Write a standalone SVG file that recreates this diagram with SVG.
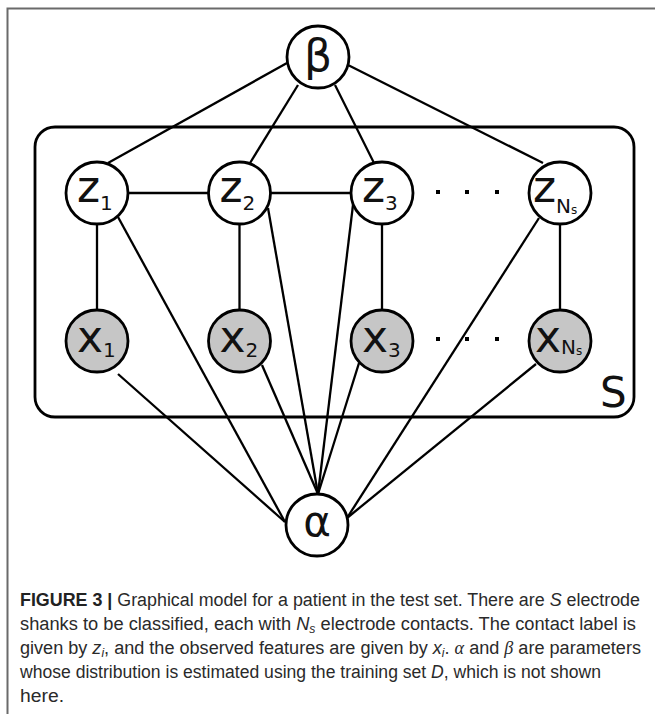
<svg xmlns="http://www.w3.org/2000/svg" width="655" height="714" viewBox="0 0 655 714">
<style>
.frame{stroke:#6a6a6a;stroke-width:2;fill:none}
.edge{stroke:#000;stroke-width:2.3;fill:none}
.plate{stroke:#000;stroke-width:2.8;fill:none}
.node{stroke:#000;stroke-width:2.8}
.hid{fill:#fff}
.obs{fill:#c6c6c6}
.lbl{font-family:"DejaVu Sans",sans-serif;fill:#111}
.cap{font-family:"Liberation Sans",Arial,sans-serif;font-size:18px;fill:#2a2a2a}
.dot{fill:#000}
</style>
<rect width="655" height="714" fill="#fff"/>
<path class="frame" d="M7.5,714 V8.5 H655"/>

<rect class="plate" x="35" y="127" width="599" height="290" rx="20"/>
<text class="lbl" x="600" y="407" font-size="42">S</text>

<g id="connectors">
<line class="edge" x1="287" y1="63" x2="108" y2="163"/>
<line class="edge" x1="298" y1="85" x2="250" y2="163"/>
<line class="edge" x1="335" y1="85" x2="374" y2="163"/>
<line class="edge" x1="348" y1="65" x2="543" y2="163"/>
<line class="edge" x1="128" y1="193" x2="209" y2="193"/>
<line class="edge" x1="270" y1="193" x2="351" y2="193"/>
<line class="edge" x1="97" y1="224" x2="97" y2="311"/>
<line class="edge" x1="239.5" y1="224" x2="239.5" y2="311"/>
<line class="edge" x1="382" y1="224" x2="382" y2="311"/>
<line class="edge" x1="560" y1="224" x2="560" y2="311"/>
<line class="edge" x1="118" y1="374" x2="285" y2="522"/>
<line class="edge" x1="118" y1="217" x2="285" y2="522"/>
<line class="edge" x1="262" y1="365" x2="318" y2="494"/>
<line class="edge" x1="268" y1="208" x2="318" y2="494"/>
<line class="edge" x1="353" y1="205" x2="318" y2="494"/>
<line class="edge" x1="359" y1="363" x2="318" y2="494"/>
<line class="edge" x1="539" y1="218" x2="347" y2="518"/>
<line class="edge" x1="536" y1="364" x2="347" y2="518"/>
</g>

<g id="dots">
<rect class="dot" x="436" y="190" width="4" height="4"/>
<rect class="dot" x="465" y="190" width="4" height="4"/>
<rect class="dot" x="495" y="190" width="4" height="4"/>
<rect class="dot" x="436" y="337" width="4" height="4"/>
<rect class="dot" x="465" y="337" width="4" height="4"/>
<rect class="dot" x="495" y="337" width="4" height="4"/>
</g>

<g id="beta">
<circle class="node hid" cx="318" cy="57" r="31"/>
<text class="lbl" x="318" y="71" font-size="44" text-anchor="middle">β</text>
</g>
<g id="z1">
<circle class="node hid" cx="97" cy="193" r="31"/>
<text class="lbl" x="77" y="202" font-size="44">z<tspan font-size="20" dy="8">1</tspan></text>
</g>
<g id="z2">
<circle class="node hid" cx="239.5" cy="193" r="31"/>
<text class="lbl" x="219.5" y="202" font-size="44">z<tspan font-size="20" dy="8">2</tspan></text>
</g>
<g id="z3">
<circle class="node hid" cx="382" cy="193" r="31"/>
<text class="lbl" x="362" y="202" font-size="44">z<tspan font-size="20" dy="8">3</tspan></text>
</g>
<g id="zNs">
<circle class="node hid" cx="560" cy="193" r="31"/>
<text class="lbl" x="533" y="202" font-size="44">z<tspan font-size="20" dy="11">N</tspan><tspan font-size="12" dy="1">s</tspan></text>
</g>
<g id="x1">
<circle class="node obs" cx="97" cy="341" r="31"/>
<text class="lbl" x="77" y="352" font-size="44">x<tspan font-size="20" dy="5">1</tspan></text>
</g>
<g id="x2">
<circle class="node obs" cx="239.5" cy="341" r="31"/>
<text class="lbl" x="219.5" y="352" font-size="44">x<tspan font-size="20" dy="5">2</tspan></text>
</g>
<g id="x3">
<circle class="node obs" cx="382" cy="341" r="31"/>
<text class="lbl" x="362" y="352" font-size="44">x<tspan font-size="20" dy="5">3</tspan></text>
</g>
<g id="xNs">
<circle class="node obs" cx="560" cy="341" r="31"/>
<text class="lbl" x="535" y="352" font-size="44">x<tspan font-size="20" dy="2">N</tspan><tspan font-size="12" dy="1">s</tspan></text>
</g>
<g id="alpha">
<circle class="node hid" cx="317" cy="525" r="31"/>
<text class="lbl" x="317" y="536" font-size="42" text-anchor="middle">α</text>
</g>

<g id="caption">
<text class="cap" x="20" y="606" textLength="620" lengthAdjust="spacingAndGlyphs"><tspan font-weight="bold" fill="#222">FIGURE 3 |</tspan> Graphical model for a patient in the test set. There are <tspan font-style="italic">S</tspan> electrode</text>
<text class="cap" x="20" y="630" textLength="616" lengthAdjust="spacingAndGlyphs">shanks to be classified, each with <tspan font-style="italic">N</tspan><tspan font-style="italic" font-size="12" dy="3">s</tspan><tspan dy="-3"> electrode contacts. The contact label is</tspan></text>
<text class="cap" x="20" y="654" textLength="621" lengthAdjust="spacingAndGlyphs">given by <tspan font-style="italic">z</tspan><tspan font-style="italic" font-size="12" dy="3">i</tspan><tspan dy="-3">, and the observed features are given by </tspan><tspan font-style="italic">x</tspan><tspan font-style="italic" font-size="12" dy="3">i</tspan><tspan dy="-3">. </tspan><tspan font-style="italic" font-family="Liberation Serif,serif">α</tspan> and <tspan font-style="italic" font-family="Liberation Serif,serif">β</tspan> are parameters</text>
<text class="cap" x="20" y="678" textLength="581" lengthAdjust="spacingAndGlyphs">whose distribution is estimated using the training set <tspan font-style="italic">D</tspan>, which is not shown</text>
<text class="cap" x="20" y="702" textLength="44" lengthAdjust="spacingAndGlyphs">here.</text>
</g>
</svg>
